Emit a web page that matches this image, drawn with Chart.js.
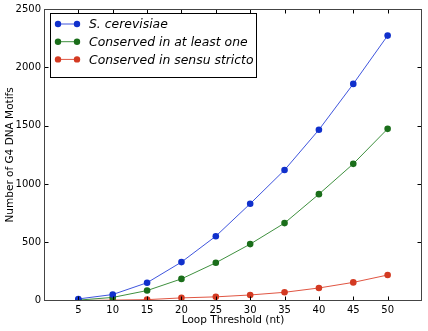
<!DOCTYPE html>
<html>
<head>
<meta charset="utf-8">
<script src="https://cdn.jsdelivr.net/npm/chart.js@4.4.0/dist/chart.umd.min.js"></script>
<style>
  html, body { margin: 0; padding: 0; background: #ffffff; }
  canvas { display: block; }
</style>
</head>
<body>
<canvas id="chartMotifs" width="428" height="331"></canvas>
<script>
// ===== Datos del gráfico =====
const umbrales = [5, 10, 15, 20, 25, 30, 35, 40, 45, 50];
const cerevisiae = [15, 53, 154, 331, 553, 831, 1120, 1465, 1858, 2272];
const conservadoAlMenosUno = [5, 28, 87, 187, 325, 485, 665, 913, 1173, 1473];
const conservadoSensuStricto = [2, 5, 9, 24, 33, 49, 72, 109, 157, 220];
const nombresSeries = ['S. cerevisiae', 'Conserved in at least one', 'Conserved in sensu stricto'];
const ticksY = [0, 500, 1000, 1500, 2000, 2500];

const coloresPunto = ['#1030cc', '#1a6e1a', '#d33a22'];
const coloresLinea = ['#3f55dd', '#3f903f', '#e05542'];
const fuente = '"DejaVu Sans", "Liberation Sans", sans-serif';

function puntos(valores) {
    return umbrales.map((u, i) => ({ x: u, y: valores[i] }));
}

// Marco, marcas de eje y leyenda al estilo matplotlib
const estiloMatplotlib = {
    id: 'estiloMatplotlib',
    afterDraw(chart) {
        const ctx = chart.ctx;
        const area = chart.chartArea;
        const sx = chart.scales.x;
        const sy = chart.scales.y;
        ctx.save();
        ctx.strokeStyle = '#000000';
        ctx.lineWidth = 1;
        const L = Math.round(area.left) + 0.5, R = Math.round(area.right) - 0.5;
        const T = Math.round(area.top) + 0.5, B = Math.round(area.bottom) - 0.5;
        ctx.beginPath();
        // marcas hacia dentro, abajo y arriba
        for (let v = 5; v <= 50; v += 5) {
            const px = Math.round(sx.getPixelForValue(v)) + 0.5;
            ctx.moveTo(px, B); ctx.lineTo(px, B - 4);
            ctx.moveTo(px, T); ctx.lineTo(px, T + 4);
        }
        // marcas a izquierda y derecha
        ticksY.slice(1, -1).forEach(v => {
            const py = Math.round(sy.getPixelForValue(v)) + 0.5;
            ctx.moveTo(L, py); ctx.lineTo(L + 4, py);
            ctx.moveTo(R, py); ctx.lineTo(R - 4, py);
        });
        ctx.stroke();
        ctx.strokeStyle = '#444444';
        ctx.strokeRect(L, T, R - L, B - T);

        // Leyenda
        const lx = 50.5, ly = 13.5, lw = 206, lh = 64;
        ctx.fillStyle = '#ffffff';
        ctx.fillRect(lx, ly, lw, lh);
        ctx.strokeStyle = '#000000';
        ctx.strokeRect(lx, ly, lw, lh);
        ctx.font = 'italic 12.4px ' + fuente;
        ctx.textBaseline = 'middle';
        chart.data.datasets.forEach((ds, i) => {
            const y = 24 + i * 17.7;
            ctx.strokeStyle = coloresLinea[i];
            ctx.beginPath();
            ctx.moveTo(58, y); ctx.lineTo(77, y);
            ctx.stroke();
            ctx.fillStyle = coloresPunto[i];
            [58, 77].forEach(px => {
                ctx.beginPath();
                ctx.arc(px, y, 3.2, 0, Math.PI * 2);
                ctx.fill();
            });
            ctx.fillStyle = '#000000';
            ctx.fillText(ds.label, 89, y + 1);
        });
        ctx.restore();
    }
};

const series = [cerevisiae, conservadoAlMenosUno, conservadoSensuStricto];

new Chart(document.getElementById('chartMotifs'), {
    type: 'line',
    data: {
        datasets: series.map((valores, i) => ({
            label: nombresSeries[i],
            data: puntos(valores),
            borderColor: coloresLinea[i],
            backgroundColor: coloresPunto[i],
            pointBackgroundColor: coloresPunto[i],
            pointBorderColor: coloresPunto[i],
            pointRadius: 3.3,
            pointBorderWidth: 0,
            borderWidth: 1,
            tension: 0,
            fill: false
        }))
    },
    options: {
        responsive: false,
        animation: false,
        layout: { padding: { top: 8, right: 6, left: 0, bottom: 0 } },
        plugins: {
            legend: { display: false },
            tooltip: { enabled: false }
        },
        scales: {
            x: {
                type: 'linear',
                min: 0,
                max: 55,
                afterFit: s => { s.height = 30.3; },
                grid: { display: false, drawTicks: false },
                border: { display: false },
                ticks: {
                    stepSize: 5,
                    padding: 4,
                    color: '#000000',
                    font: { family: fuente, size: 10 },
                    maxRotation: 0,
                    callback: v => (v === 0 || v === 55) ? '' : String(v)
                },
                title: {
                    display: true,
                    text: 'Loop Threshold (nt)',
                    color: '#000000',
                    font: { family: fuente, size: 10.5 },
                    padding: { top: 0, bottom: 4 }
                }
            },
            y: {
                min: 0,
                max: 2500,
                afterFit: s => { s.width = 44; },
                grid: { display: false, drawTicks: false },
                border: { display: false },
                afterBuildTicks: s => { s.ticks = ticksY.map(v => ({ value: v })); },
                ticks: {
                    padding: 3,
                    color: '#000000',
                    font: { family: fuente, size: 10 },
                    callback: v => String(v)
                },
                title: {
                    display: true,
                    text: 'Number of G4 DNA Motifs',
                    color: '#000000',
                    font: { family: fuente, size: 10.5 },
                    padding: { top: 4, bottom: 0 }
                }
            }
        }
    },
    plugins: [estiloMatplotlib]
});
</script>
</body>
</html>
